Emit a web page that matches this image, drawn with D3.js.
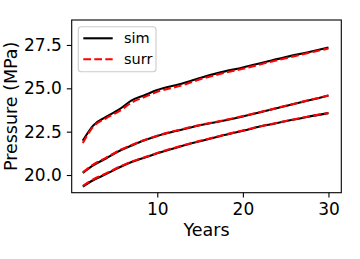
<!DOCTYPE html>
<html>
<head>
<meta charset="utf-8">
<script src="https://cdn.jsdelivr.net/npm/d3@7"></script>
<style>
  body { margin: 0; background: #fff; }
  text { font-family: "DejaVu Sans", sans-serif; }
</style>
</head>
<body>
<div id="chart"></div>
<script>
// Time steps (years)
const years = [1.3, 2.5, 4, 5.6, 7, 8.5, 10, 12.7, 15, 17.4, 20, 22.5, 25, 27.5, 30]

// Simulated pressure curves (MPa)
const simTop = [21.98, 22.85, 23.35, 23.8, 24.3, 24.6, 24.9, 25.25, 25.6, 25.92, 26.2, 26.5, 26.8, 27.07, 27.35]
const simMid = [20.12, 20.55, 20.95, 21.4, 21.7, 22.0, 22.25, 22.6, 22.87, 23.1, 23.38, 23.68, 23.98, 24.28, 24.58]
const simLow = [19.33, 19.7, 20.05, 20.45, 20.75, 21.0, 21.25, 21.65, 21.95, 22.25, 22.55, 22.85, 23.1, 23.35, 23.57]

// Surrogate predictions (MPa)
const surrTop = [21.85, 22.78, 23.27, 23.7, 24.18, 24.5, 24.8, 25.15, 25.52, 25.84, 26.13, 26.44, 26.74, 27.02, 27.3]
const surrMid = [20.15, 20.6, 20.99, 21.43, 21.73, 22.02, 22.27, 22.62, 22.89, 23.12, 23.4, 23.69, 23.99, 24.29, 24.59]
const surrLow = [19.37, 19.74, 20.09, 20.48, 20.77, 21.02, 21.27, 21.67, 21.97, 22.27, 22.57, 22.86, 23.11, 23.36, 23.58]

const xTicks = [10, 20, 30]
const yTicks = [20.0, 22.5, 25.0, 27.5]
const legendLabels = ["sim", "surr"]

const width = 360
const height = 259
const margin = { top: 20, right: 18.7, bottom: 66.3, left: 71.7 }

const x = d3.scaleLinear().domain([0, 31.5]).range([margin.left, width - margin.right])
const y = d3.scaleLinear().domain([18.98, 28.94]).range([height - margin.bottom, margin.top])

const svg = d3.select("#chart").append("svg")
    .attr("width", width)
    .attr("height", height)

const line = d3.line()
    .x((d, i) => x(years[i]))
    .y(d => y(d))
    .curve(d3.curveMonotoneX)

// Simulation lines underneath, surrogate dashed on top
for (const s of [simTop, simMid, simLow]) {
    svg.append("path")
        .datum(s)
        .attr("d", line)
        .attr("fill", "none")
        .attr("stroke", "#000")
        .attr("stroke-width", 2.1)
}
for (const s of [surrTop, surrMid, surrLow]) {
    svg.append("path")
        .datum(s)
        .attr("d", line)
        .attr("fill", "none")
        .attr("stroke", "#ff0000")
        .attr("stroke-width", 2.1)
        .attr("stroke-dasharray", "7.7,3.3")
}

// Axes
const xAxis = svg.append("g")
    .attr("transform", translate(0, height - margin.bottom))
    .call(d3.axisBottom(x).tickValues(xTicks).tickSize(4.9).tickPadding(4.9).tickFormat(d3.format("d")))
const yAxis = svg.append("g")
    .attr("transform", translate(margin.left, 0))
    .call(d3.axisLeft(y).tickValues(yTicks).tickSize(4.9).tickPadding(4.9).tickFormat(d3.format(".1f")))

for (const ax of [xAxis, yAxis]) {
    ax.select(".domain").remove()
    ax.selectAll("line").attr("stroke", "#000").attr("stroke-width", 1.1)
    ax.selectAll("text")
        .attr("fill", "#000")
        .style("font-size", "17px")
        .style("font-family", "DejaVu Sans")
}

// Frame
svg.append("rect")
    .attr("x", margin.left)
    .attr("y", margin.top)
    .attr("width", width - margin.left - margin.right)
    .attr("height", height - margin.top - margin.bottom)
    .attr("fill", "none")
    .attr("stroke", "#000")
    .attr("stroke-width", 1.1)

// Axis labels
svg.append("text")
    .attr("x", (margin.left + width - margin.right) / 2)
    .attr("y", 236)
    .attr("text-anchor", "middle")
    .style("font-size", "17.5px")
    .text("Years")
svg.append("text")
    .attr("transform", `translate(17,${(margin.top + height - margin.bottom) / 2}) rotate(-90)`)
    .attr("text-anchor", "middle")
    .style("font-size", "17.5px")
    .text("Pressure (MPa)")

// Legend
const legend = svg.append("g").attr("transform", translate(78.3, 26.7))
legend.append("rect")
    .attr("width", 77.7)
    .attr("height", 45)
    .attr("rx", 3)
    .attr("fill", "#fff")
    .attr("fill-opacity", 0.8)
    .attr("stroke", "#ccc")
    .attr("stroke-width", 1.1)
legendLabels.forEach((label, i) => {
    const ly = 11.6 + i * 21
    legend.append("line")
        .attr("x1", 5)
        .attr("x2", 34.4)
        .attr("y1", ly)
        .attr("y2", ly)
        .attr("stroke", i === 0 ? "#000" : "#ff0000")
        .attr("stroke-width", 2.1)
        .attr("stroke-dasharray", i === 0 ? null : "7.7,3.3")
    legend.append("text")
        .attr("x", 45.7)
        .attr("y", ly + 5.2)
        .style("font-size", "14.5px")
        .text(label)
})

function translate(x, y) {
    return `translate(${x},${y})`
}
</script>
</body>
</html>
